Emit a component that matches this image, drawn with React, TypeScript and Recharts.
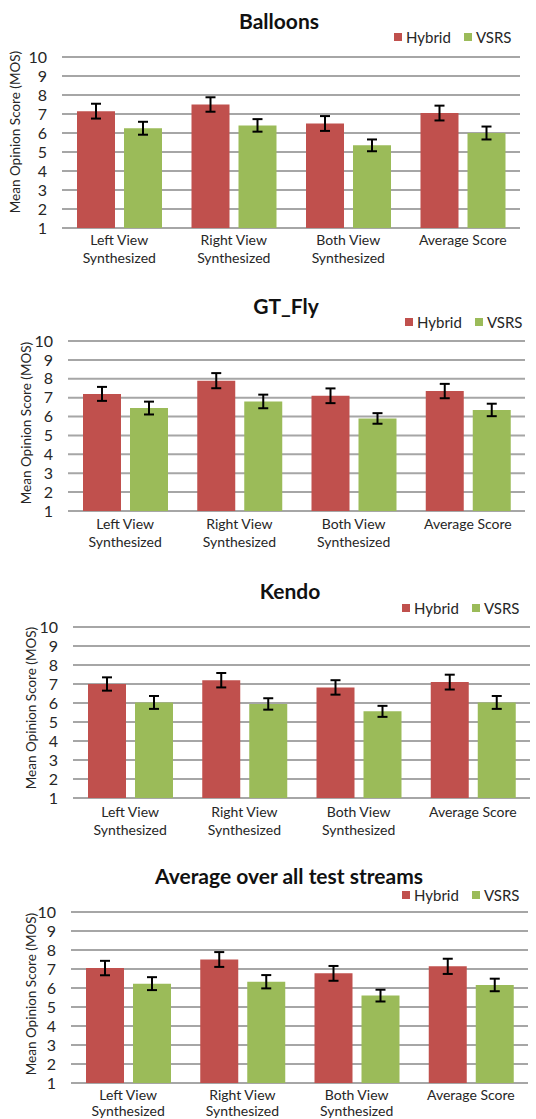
import { BarChart, Bar, XAxis, YAxis, CartesianGrid, ErrorBar, Legend } from "recharts";

const categories = [
  "Left View\nSynthesized",
  "Right View\nSynthesized",
  "Both View\nSynthesized",
  "Average Score",
];
const seriesNames = ["Hybrid", "VSRS"];
const seriesColors = ["#C0504D", "#9BBB59"];
const yTicks = [1, 2, 3, 4, 5, 6, 7, 8, 9, 10];

const balloonsHybrid = [7.15, 7.5, 6.5, 7.05];
const balloonsVsrs = [6.25, 6.4, 5.35, 6.0];
const balloonsHybridErr = [0.39, 0.38, 0.39, 0.39];
const balloonsVsrsErr = [0.34, 0.33, 0.31, 0.34];

const gtflyHybrid = [7.2, 7.9, 7.1, 7.35];
const gtflyVsrs = [6.45, 6.8, 5.9, 6.35];
const gtflyHybridErr = [0.37, 0.4, 0.39, 0.38];
const gtflyVsrsErr = [0.34, 0.36, 0.28, 0.33];

const kendoHybrid = [7.0, 7.2, 6.82, 7.1];
const kendoVsrs = [6.03, 5.95, 5.56, 6.03];
const kendoHybridErr = [0.35, 0.38, 0.38, 0.39];
const kendoVsrsErr = [0.34, 0.3, 0.29, 0.34];

const allHybrid = [7.05, 7.5, 6.77, 7.14];
const allVsrs = [6.23, 6.33, 5.6, 6.16];
const allHybridErr = [0.38, 0.39, 0.39, 0.4];
const allVsrsErr = [0.34, 0.35, 0.31, 0.33];

const FONT = "Lato, 'Open Sans', sans-serif";
const TEXT = "#262626";

const panels = [
  {
    title: "Balloons", hybrid: balloonsHybrid, vsrs: balloonsVsrs, hErr: balloonsHybridErr, vErr: balloonsVsrsErr,
    top: 0, height: 280, plotLeft: 62, plotRight: 520, plotTop: 57, plotBottom: 228,
    titleX: 279, titleY: 20, legendX: 394, legendY: 38, axisTitleX: 15, axisTitleY: 132, labelDy: 15, lineGap: 17.5,
  },
  {
    title: "GT_Fly", hybrid: gtflyHybrid, vsrs: gtflyVsrs, hErr: gtflyHybridErr, vErr: gtflyVsrsErr,
    top: 280, height: 280, plotLeft: 68, plotRight: 525, plotTop: 341, plotBottom: 511,
    titleX: 286, titleY: 305, legendX: 405, legendY: 323, axisTitleX: 26, axisTitleY: 423, labelDy: 16, lineGap: 17.5,
  },
  {
    title: "Kendo", hybrid: kendoHybrid, vsrs: kendoVsrs, hErr: kendoHybridErr, vErr: kendoVsrsErr,
    top: 560, height: 280, plotLeft: 73, plotRight: 530, plotTop: 627, plotBottom: 798,
    titleX: 290, titleY: 590, legendX: 402, legendY: 609, axisTitleX: 31, axisTitleY: 708, labelDy: 17, lineGap: 17.5,
  },
  {
    title: "Average over all test streams", hybrid: allHybrid, vsrs: allVsrs, hErr: allHybridErr, vErr: allVsrsErr,
    top: 840, height: 279, plotLeft: 71, plotRight: 528, plotTop: 912, plotBottom: 1083,
    titleX: 289, titleY: 875, legendX: 402, legendY: 896, axisTitleX: 31, axisTitleY: 994, labelDy: 15, lineGap: 16,
  },
];

function CategoryTick(props: any) {
  const { x, y, payload, dy, lineGap } = props;
  const lines = String(payload.value).split("\n");
  return (
    <text x={x} y={y + dy} textAnchor="middle" fill={TEXT} fontSize={14} fontFamily={FONT}>
      {lines.map((l, i) => (
        <tspan key={i} x={x} dy={i === 0 ? 0 : lineGap}>
          {l}
        </tspan>
      ))}
    </text>
  );
}

function AxisTitle({ cx, cy }: { cx: number; cy: number }) {
  return (
    <text
      x={cx}
      y={cy}
      transform={`rotate(-90 ${cx} ${cy})`}
      textAnchor="middle"
      dominantBaseline="central"
      fill={TEXT}
      fontSize={13.5}
      fontFamily={FONT}
    >
      Mean Opinion Score (MOS)
    </text>
  );
}

function LegendContent(props: any) {
  const items = props.payload || [];
  return (
    <div style={{ display: "flex", alignItems: "center", fontFamily: FONT, fontSize: 15, color: TEXT, whiteSpace: "nowrap" }}>
      {items.map((it: any) => (
        <span key={it.value} style={{ display: "flex", alignItems: "center", marginRight: 13 }}>
          <span style={{ width: 8, height: 8, background: it.color, marginRight: 4, display: "inline-block" }} />
          {it.value}
        </span>
      ))}
    </div>
  );
}

function Panel({ p }: { p: (typeof panels)[number] }) {
  const data = categories.map((c, i) => ({
    name: c,
    hybrid: p.hybrid[i],
    vsrs: p.vsrs[i],
    hErr: p.hErr[i],
    vErr: p.vErr[i],
  }));
  const margin = { top: p.plotTop - p.top, right: 536 - p.plotRight, left: 0, bottom: 0 };
  return (
    <div style={{ position: "absolute", left: 0, top: p.top, width: 536, height: p.height }}>
      <div
        style={{
          position: "absolute",
          left: p.titleX,
          top: p.titleY - p.top,
          transform: "translate(-50%, -50%)",
          fontFamily: FONT,
          fontWeight: 700,
          fontSize: 21,
          color: "#111",
          whiteSpace: "nowrap",
          zIndex: 2,
        }}
      >
        {p.title}
      </div>
      <BarChart width={536} height={p.height} data={data} margin={margin} barSize={38} barGap={9}>
        <CartesianGrid vertical={false} stroke="#A6A6A6" strokeWidth={2} />
        <XAxis
          dataKey="name"
          axisLine={false}
          tickLine={false}
          tickSize={0}
          interval={0}
          height={p.top + p.height - p.plotBottom}
          tick={<CategoryTick dy={p.labelDy} lineGap={p.lineGap} />}
        />
        <YAxis
          domain={[1, 10]}
          ticks={yTicks}
          interval={0}
          width={p.plotLeft}
          axisLine={false}
          tickLine={false}
          tickSize={0}
          tickMargin={15}
          tick={{ fill: TEXT, fontSize: 16, fontFamily: FONT }}
          label={<AxisTitle cx={p.axisTitleX} cy={p.axisTitleY - p.top} />}
        />
        <Legend
          layout="vertical"
          align="center"
          verticalAlign="middle"
          content={<LegendContent />}
          wrapperStyle={{ left: p.legendX, top: p.legendY - p.top - 10, width: "auto", height: 20 }}
        />
        <Bar dataKey="hybrid" name={seriesNames[0]} fill={seriesColors[0]} isAnimationActive={false}>
          <ErrorBar dataKey="hErr" direction="y" width={5} stroke="#000" strokeWidth={2} />
        </Bar>
        <Bar dataKey="vsrs" name={seriesNames[1]} fill={seriesColors[1]} isAnimationActive={false}>
          <ErrorBar dataKey="vErr" direction="y" width={5} stroke="#000" strokeWidth={2} />
        </Bar>
      </BarChart>
    </div>
  );
}

export default function App() {
  return (
    <div style={{ position: "absolute", left: 0, top: 0, width: 536, height: 1119, background: "#fff" }}>
      {panels.map((p) => (
        <Panel key={p.title} p={p} />
      ))}
    </div>
  );
}
